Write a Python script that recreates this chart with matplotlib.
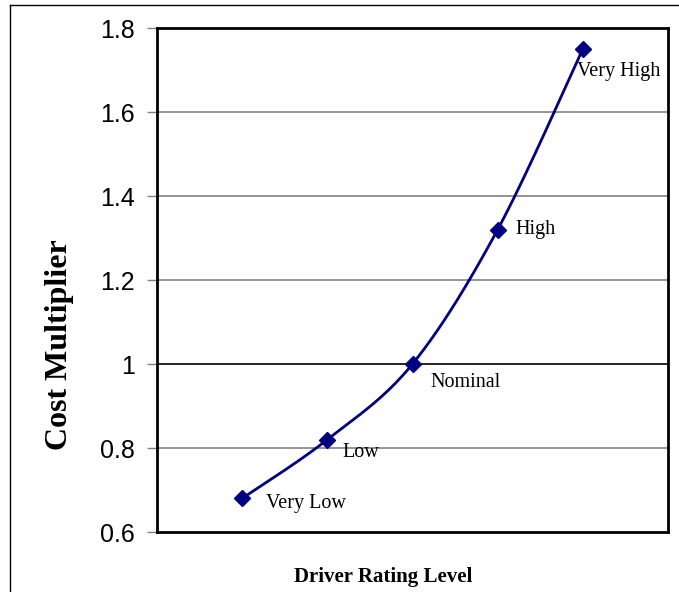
import numpy as np
import matplotlib.pyplot as plt
from matplotlib.lines import Line2D

levels = ["Very Low", "Low", "Nominal", "High", "Very High"]
multipliers = [0.68, 0.82, 1.00, 1.32, 1.75]
yticks = [0.6, 0.8, 1.0, 1.2, 1.4, 1.6, 1.8]
ytick_labels = ["0.6", "0.8", "1", "1.2", "1.4", "1.6", "1.8"]


def smooth(x, y, n=40, t=0.5):
    # cardinal spline, like the smoothed line of a spreadsheet chart
    x = np.asarray(x, float)
    y = np.asarray(y, float)
    px = np.r_[x[0], x, x[-1]]
    py = np.r_[y[0], y, y[-1]]
    xs, ys = [], []
    s = np.linspace(0, 1, n)
    h1 = 2 * s**3 - 3 * s**2 + 1
    h2 = -2 * s**3 + 3 * s**2
    h3 = s**3 - 2 * s**2 + s
    h4 = s**3 - s**2
    for i in range(1, len(px) - 2):
        m1x = t * (px[i + 1] - px[i - 1])
        m1y = t * (py[i + 1] - py[i - 1])
        m2x = t * (px[i + 2] - px[i])
        m2y = t * (py[i + 2] - py[i])
        xs.append(h1 * px[i] + h2 * px[i + 1] + h3 * m1x + h4 * m2x)
        ys.append(h1 * py[i] + h2 * py[i + 1] + h3 * m1y + h4 * m2y)
    return np.concatenate(xs), np.concatenate(ys)


W, H = 679, 592
fig = plt.figure(figsize=(W / 100, H / 100), dpi=100)
ax = fig.add_axes([157 / W, 1 - 532 / H, (668 - 157) / W, (532 - 28) / H])

xpos = np.arange(1, len(levels) + 1)
sx, sy = smooth(xpos, multipliers)
ax.plot(sx, sy, color="#000080", lw=2, zorder=3)
ax.plot(xpos, multipliers, ls="none", marker="D", ms=8, color="#000080", zorder=4)

offsets = [(17, -4), (11, -9), (13, -13), (13, 0), (-4, -16)]
for xi, yi, lab, (dx, dy) in zip(xpos, multipliers, levels, offsets):
    ax.annotate(lab, (xi, yi), xytext=(dx, dy), textcoords="offset points",
                ha="left", va="center", fontsize=14.5, family="Liberation Serif", color="black")

ax.set_xlim(0, 6)
ax.set_ylim(0.6, 1.8)
ax.set_xticks([])
ax.set_yticks(yticks)
ax.set_yticklabels(ytick_labels, family="Liberation Sans", fontsize=18)
ax.tick_params(axis="y", length=7, width=1, color="#808080", pad=9)
for v in yticks[1:-1]:
    c = "black" if v == 1.0 else "#808080"
    ax.axhline(v, color=c, lw=1.2, zorder=1)
for s in ax.spines.values():
    s.set_linewidth(2)
    s.set_color("black")

fig.text(60 / W, 1 - 345 / H, "Cost Multiplier", rotation=90, ha="center", va="center",
         family="Liberation Serif", fontweight="bold", fontsize=23)
fig.text(383 / W, 1 - 577 / H, "Driver Rating Level", ha="center", va="center",
         family="Liberation Serif", fontweight="bold", fontsize=15)

# outer frame (left and top edges visible)
fig.add_artist(Line2D([10 / W, 10 / W], [0, 1 - 5 / H], transform=fig.transFigure, color="black", lw=1))
fig.add_artist(Line2D([10 / W, 1], [1 - 5 / H, 1 - 5 / H], transform=fig.transFigure, color="black", lw=1))

fig.savefig("out.png", dpi=100)
